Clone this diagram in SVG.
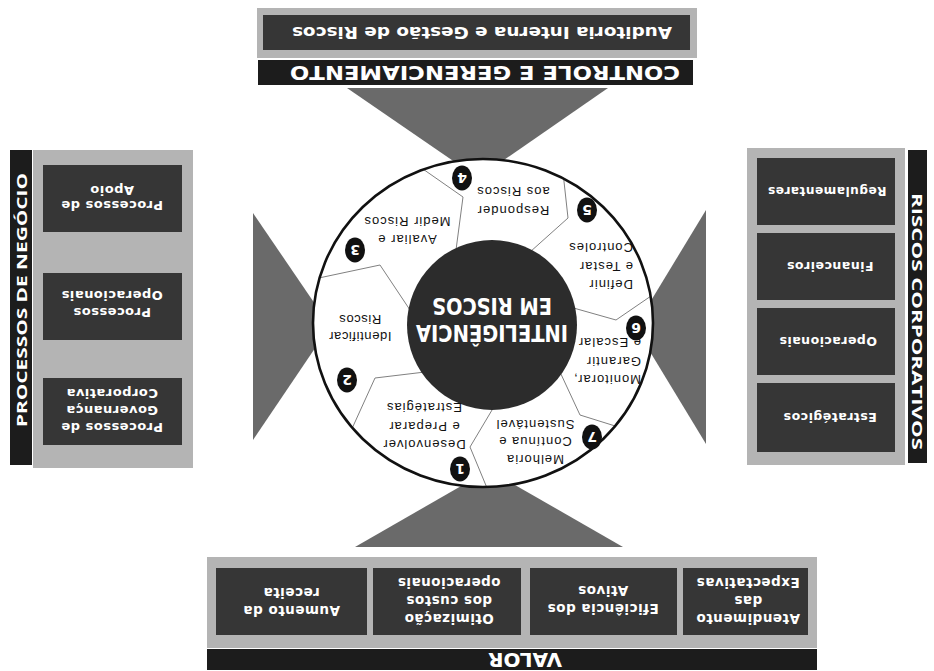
<svg xmlns="http://www.w3.org/2000/svg" width="934" height="671" viewBox="0 0 934 671">
<style>
.panel{fill:#b4b4b4}
.box{fill:#363636}
.bar{fill:#1c1c1c}
.tri{fill:#6a6a6a}
.bt{font-family:"DejaVu Sans",Verdana,sans-serif;font-weight:bold;fill:#fff;text-anchor:middle;letter-spacing:0.5px}
.hd{font-family:"DejaVu Sans",Verdana,sans-serif;font-weight:bold;fill:#fff;text-anchor:middle}
.vt{font-family:"Open Sans","DejaVu Sans",sans-serif;font-weight:bold;fill:#fff;text-anchor:middle;font-size:15px}
.sg{font-family:"Liberation Sans",Arial,sans-serif;fill:#111;font-size:13px;letter-spacing:1px}
.num{font-family:"DejaVu Sans",sans-serif;font-weight:bold;fill:#fff;font-size:14px;text-anchor:middle}
.badge{fill:#111}
.div{fill:none;stroke:#808080;stroke-width:1}
</style>
<defs>
<clipPath id="ring"><ellipse cx="483" cy="323" rx="170" ry="164"/></clipPath>
</defs>
<rect width="934" height="671" fill="#fff"/>

<g id="funnels">
<polygon class="tri" points="347,88 608,88 478,178"/>
<polygon class="tri" points="355,547 623,547 489,470"/>
<polygon class="tri" points="253,213 253,440 330,326"/>
<polygon class="tri" points="706,210 706,444 635,327"/>
</g>

<g id="controle">
<rect class="panel" x="257" y="8" width="440" height="50"/>
<rect class="box" x="263" y="15" width="427" height="35"/>
<text class="hd" x="482" y="38.8" font-size="16" textLength="380" lengthAdjust="spacingAndGlyphs" transform="rotate(180 482 33)">Auditoria Interna e Gestão de Riscos</text>
<rect class="bar" x="258" y="60" width="435" height="25"/>
<text class="hd" x="485" y="79.8" font-size="19" textLength="390" lengthAdjust="spacingAndGlyphs" transform="rotate(180 485 73)">CONTROLE E GERENCIAMENTO</text>
</g>

<g id="processos">
<rect class="bar" x="10" y="150" width="22" height="315"/>
<text class="vt" x="21" y="300" dy="5.5" textLength="254" lengthAdjust="spacingAndGlyphs" transform="rotate(-90 21 300)">PROCESSOS DE NEGÓCIO</text>
<rect class="panel" x="33" y="150" width="160" height="318"/>
<rect class="box" x="43" y="165" width="139" height="67"/>
<text class="bt" font-size="13" transform="rotate(180 112 197.5)"><tspan x="112" y="194.2">Processos de</tspan><tspan x="112" y="209.2">Apoio</tspan></text>
<rect class="box" x="43" y="273" width="139" height="67"/>
<text class="bt" font-size="13" transform="rotate(180 112 303.5)"><tspan x="112" y="299.2">Processos</tspan><tspan x="112" y="316.2">Operacionais</tspan></text>
<rect class="box" x="43" y="378" width="139" height="67"/>
<text class="bt" font-size="13" transform="rotate(180 112 410)"><tspan x="112" y="397.2">Processos de</tspan><tspan x="112" y="414.2">Governança</tspan><tspan x="112" y="431.2">Corporativa</tspan></text>
</g>

<g id="riscos">
<rect class="panel" x="747" y="148" width="158" height="317"/>
<rect class="bar" x="908" y="150" width="19" height="313"/>
<text class="vt" x="917.5" y="321.5" dy="5.3" textLength="257" lengthAdjust="spacingAndGlyphs" transform="rotate(90 917.5 321.5)">RISCOS CORPORATIVOS</text>
<rect class="box" x="757" y="158" width="138" height="67"/>
<text class="bt" font-size="12.5" x="827" y="195.9" textLength="119" lengthAdjust="spacingAndGlyphs" transform="rotate(180 827 191.5)">Regulamentares</text>
<rect class="box" x="757" y="233" width="138" height="67"/>
<text class="bt" font-size="12.5" x="830" y="270.9" transform="rotate(180 830 266.5)">Financeiros</text>
<rect class="box" x="757" y="308" width="138" height="67"/>
<text class="bt" font-size="12.5" x="828" y="345.9" transform="rotate(180 828 341.5)">Operacionais</text>
<rect class="box" x="757" y="383" width="138" height="69"/>
<text class="bt" font-size="12.5" x="830" y="421.9" transform="rotate(180 830 417.5)">Estratégicos</text>
</g>

<g id="valor">
<rect class="panel" x="207" y="557" width="610" height="91"/>
<rect class="box" x="216" y="568" width="151" height="67"/>
<text class="bt" font-size="13.5" transform="rotate(180 291.5 601)"><tspan x="291.5" y="596.3">Aumento da</tspan><tspan x="291.5" y="614.3">receita</tspan></text>
<rect class="box" x="373" y="568" width="148" height="67"/>
<text class="bt" font-size="13.5" transform="rotate(180 449 600)"><tspan x="449" y="586.3">Otimização</tspan><tspan x="449" y="604.3">dos custos</tspan><tspan x="449" y="622.3">operacionais</tspan></text>
<rect class="box" x="530" y="568" width="147" height="67"/>
<text class="bt" font-size="13.5" transform="rotate(180 603 599)"><tspan x="603" y="594.3">Eficiência dos</tspan><tspan x="603" y="612.3">Ativos</tspan></text>
<rect class="box" x="683" y="568" width="125" height="67"/>
<text class="bt" font-size="13.5" transform="rotate(180 748 600)"><tspan x="748" y="586.3">Atendimento</tspan><tspan x="748" y="604.3">das</tspan><tspan x="748" y="622.3">Expectativas</tspan></text>
<rect class="bar" x="207" y="649" width="610" height="21"/>
<text class="hd" x="525" y="667.2" font-size="20" transform="rotate(180 525 660)">VALOR</text>
</g>

<g id="ciclo">
<ellipse cx="483" cy="323" rx="170" ry="164" fill="#fff"/>
<g id="connectors" clip-path="url(#ring)">
<polyline class="div" points="410,160 463,197 456,250"/>
<polyline class="div" points="300,282 380,265 410,310"/>
<polyline class="div" points="345,444 375,378 425,372"/>
<polyline class="div" points="495,405 470,447 492,500"/>
<polyline class="div" points="560,372 580,415 660,440"/>
<polyline class="div" points="570,307 616,320 670,283"/>
<polyline class="div" points="530,252 568,218 560,145"/>
</g>
<ellipse cx="483" cy="323" rx="170" ry="164" fill="none" stroke="#111" stroke-width="2.6"/>
</g>

<g id="inteligencia">
<circle cx="492" cy="325" r="85" fill="#2c2c2c"/>
<text class="hd" font-family="Liberation Sans, Arial, sans-serif" font-size="23" x="492" y="341.2" textLength="152" lengthAdjust="spacingAndGlyphs" transform="rotate(180 492 333)">INTELIGÊNCIA</text>
<text class="hd" font-family="Liberation Sans, Arial, sans-serif" font-size="23" x="492" y="314.2" textLength="120" lengthAdjust="spacingAndGlyphs" transform="rotate(180 492 306)">EM RISCOS</text>
</g>

<g id="etapa1">
<ellipse class="badge" cx="460" cy="469" rx="10" ry="12.5"/>
<text class="num" x="460" y="474" transform="rotate(180 460 469)">1</text>
<text class="sg" text-anchor="middle" transform="rotate(180 424 426.5)"><tspan x="424" y="412.55">Desenvolver</tspan><tspan x="424" y="431.05">e Preparar</tspan><tspan x="424" y="449.55">Estratégias</tspan></text>
</g>
<g id="etapa2">
<ellipse class="badge" cx="347" cy="380" rx="10" ry="12.5"/>
<text class="num" x="347" y="385" transform="rotate(180 347 380)">2</text>
<text class="sg" text-anchor="middle" style="letter-spacing:0.6px" transform="rotate(180 360 328.5)"><tspan x="360" y="324.55">Identificar</tspan><tspan x="360" y="341.55">Riscos</tspan></text>
</g>
<g id="etapa3">
<ellipse class="badge" cx="355" cy="250" rx="10" ry="12.5"/>
<text class="num" x="355" y="255" transform="rotate(180 355 250)">3</text>
<text class="sg" text-anchor="middle" transform="rotate(180 407 231)"><tspan x="407" y="226.55">Avaliar e</tspan><tspan x="407" y="244.55">Medir Riscos</tspan></text>
</g>
<g id="etapa4">
<ellipse class="badge" cx="462" cy="178" rx="10" ry="12.5"/>
<text class="num" x="462" y="183" transform="rotate(180 462 178)">4</text>
<text class="sg" text-anchor="middle" transform="rotate(180 513 201.5)"><tspan x="513" y="196.55">Responder</tspan><tspan x="513" y="215.55">aos Riscos</tspan></text>
</g>
<g id="etapa5">
<ellipse class="badge" cx="587" cy="210" rx="10" ry="12.5"/>
<text class="num" x="587" y="215" transform="rotate(180 587 210)">5</text>
<text class="sg" transform="rotate(180 605 266.5)"><tspan x="577" y="252.55">Definir</tspan><tspan x="577" y="271.05">e Testar</tspan><tspan x="577" y="289.55">Controles</tspan></text>
</g>
<g id="etapa6">
<ellipse class="badge" cx="636" cy="328" rx="10" ry="12.5"/>
<text class="num" x="636" y="333" transform="rotate(180 636 328)">6</text>
<text class="sg" transform="rotate(180 613 361.5)"><tspan x="585" y="347.55">Monitorar,</tspan><tspan x="585" y="366.05">Garantir</tspan><tspan x="585" y="384.55">e Escalar</tspan></text>
</g>
<g id="etapa7">
<ellipse class="badge" cx="592" cy="437" rx="10" ry="12.5"/>
<text class="num" x="592" y="442" transform="rotate(180 592 437)">7</text>
<text class="sg" text-anchor="middle" transform="rotate(180 535 442)"><tspan x="535" y="429.05">Melhoria</tspan><tspan x="535" y="446.55">Contínua e</tspan><tspan x="535" y="464.05">Sustentável</tspan></text>
</g>
</svg>
